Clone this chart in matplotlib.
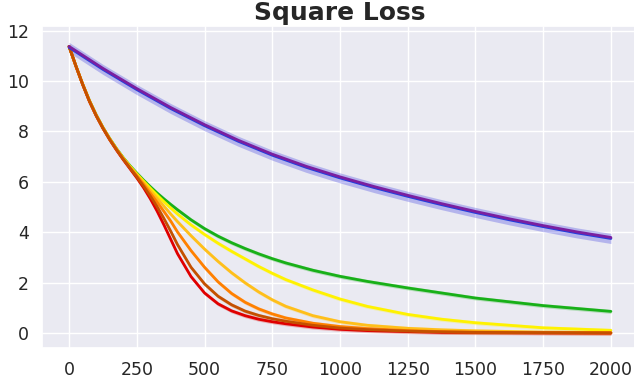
import matplotlib
matplotlib.use("Agg")
import matplotlib.pyplot as plt
import seaborn as sns

# --- données ---
steps_fast = [0, 25, 50, 75, 100, 125, 150, 175, 200, 225, 250, 275, 300, 325, 350, 375, 400,
              450, 500, 550, 600, 650, 700, 750, 800, 900, 1000, 1100, 1250, 1375, 1500, 1750, 2000]
loss_green = [11.37, 10.6, 9.88, 9.23, 8.66, 8.16, 7.72, 7.32, 6.96, 6.64, 6.35, 6.07, 5.81, 5.56,
              5.33, 5.11, 4.9, 4.5, 4.15, 3.85, 3.59, 3.36, 3.15, 2.96, 2.79, 2.5, 2.26, 2.06,
              1.8, 1.6, 1.4, 1.1, 0.87]
loss_yellow = [11.37, 10.6, 9.88, 9.22, 8.65, 8.15, 7.71, 7.31, 6.95, 6.62, 6.32, 6.03, 5.75, 5.48,
               5.22, 4.97, 4.73, 4.3, 3.92, 3.57, 3.25, 2.95, 2.65, 2.38, 2.13, 1.72, 1.36, 1.07,
               0.75, 0.56, 0.42, 0.22, 0.12]
loss_gold = [11.37, 10.6, 9.88, 9.22, 8.65, 8.15, 7.7, 7.3, 6.93, 6.59, 6.28, 5.97, 5.66, 5.35,
             5.04, 4.73, 4.43, 3.87, 3.34, 2.85, 2.4, 2.0, 1.64, 1.33, 1.07, 0.7, 0.46, 0.32,
             0.2, 0.14, 0.1, 0.05, 0.03]
loss_orange = [11.37, 10.6, 9.87, 9.21, 8.64, 8.14, 7.69, 7.29, 6.92, 6.57, 6.24, 5.9, 5.55, 5.2,
               4.83, 4.45, 4.02, 3.28, 2.62, 2.04, 1.58, 1.23, 0.97, 0.77, 0.61, 0.4, 0.27, 0.19,
               0.11, 0.07, 0.05, 0.03, 0.02]
loss_brown = [11.37, 10.6, 9.87, 9.2, 8.63, 8.13, 7.68, 7.28, 6.9, 6.55, 6.2, 5.83, 5.44, 5.02,
              4.55, 4.05, 3.52, 2.62, 1.96, 1.47, 1.13, 0.88, 0.71, 0.58, 0.48, 0.32, 0.21, 0.15,
              0.09, 0.06, 0.04, 0.03, 0.02]
loss_red = [11.37, 10.59, 9.86, 9.19, 8.62, 8.12, 7.67, 7.26, 6.88, 6.52, 6.16, 5.77, 5.33, 4.84,
            4.3, 3.73, 3.16, 2.25, 1.6, 1.17, 0.89, 0.7, 0.56, 0.46, 0.38, 0.25, 0.16, 0.11,
            0.07, 0.04, 0.03, 0.02, 0.01]

steps_slow = [0, 125, 250, 375, 500, 625, 750, 875, 1000, 1125, 1250, 1375, 1500,
              1625, 1750, 1875, 2000]
loss_purple = [11.37, 10.5, 9.7, 8.95, 8.27, 7.65, 7.1, 6.62, 6.2, 5.82, 5.47, 5.14, 4.83,
               4.54, 4.27, 4.02, 3.8]
loss_blue = [11.33, 10.46, 9.66, 8.91, 8.23, 7.61, 7.06, 6.58, 6.16, 5.78, 5.43, 5.1, 4.79,
             4.5, 4.23, 3.98, 3.76]

sns.set_theme(style="darkgrid")

fig = plt.figure(figsize=(6.34, 3.81), dpi=100)
ax = fig.add_axes([42 / 634, 33 / 381, 596 / 634, 322 / 381])

# bandes (écart-type) puis courbes
fast = [(loss_green, "#18b018"), (loss_yellow, "#fff200"), (loss_gold, "#ffbf1a"),
        (loss_red, "#e00000"), (loss_orange, "#ff8000"), (loss_brown, "#c45000")]
for y, c in fast:
    ax.fill_between(steps_fast, [v - 0.08 for v in y], [v + 0.08 for v in y],
                    color=c, alpha=0.25, lw=0)
    ax.plot(steps_fast, y, color=c, lw=2)

ax.fill_between(steps_slow, [v - 0.2 for v in loss_blue], [v + 0.2 for v in loss_blue],
                color="#3a3adf", alpha=0.3, lw=0)
ax.plot(steps_slow, loss_blue, color="#2040e0", lw=2)
ax.plot(steps_slow, loss_purple, color="#7a1fa0", lw=2)

ax.set_xlim(-100, 2100)
ax.set_ylim(-0.58, 12.18)
ax.set_xticks([0, 250, 500, 750, 1000, 1250, 1500, 1750, 2000])
ax.set_yticks([0, 2, 4, 6, 8, 10, 12])
ax.tick_params(labelsize=12.5, colors="#262626")
ax.set_title("Square Loss", fontsize=18, fontweight="bold", color="#262626", pad=4)

fig.savefig("out.png", dpi=100)
